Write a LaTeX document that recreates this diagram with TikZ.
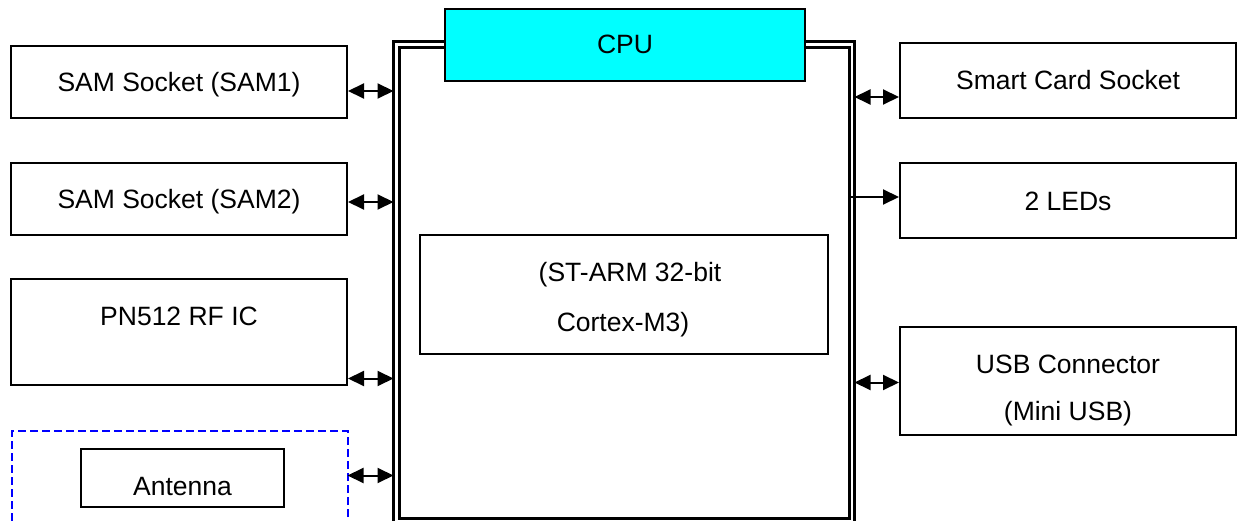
\documentclass[tikz,border=0pt]{standalone}
\usepackage{fontspec}
\setmainfont{Liberation Sans}
\usetikzlibrary{arrows.meta}
\definecolor{cpucyan}{RGB}{0,255,255}
\definecolor{dashblue}{RGB}{0,0,255}
\begin{document}
\begin{tikzpicture}[x=1pt,y=-1pt,
  box/.style={draw=black,line width=2pt,fill=white,inner sep=0pt},
  frameline/.style={draw=black,line width=2.8pt,inner sep=0pt,outer sep=0pt},
  tip/.tip={Triangle[length=16pt,width=15pt]},
  dbl/.style={line width=2pt,tip-tip},
  sgl/.style={line width=2pt,-tip},
  txt/.style={font=\fontsize{26.5}{48}\selectfont,inner sep=0pt,anchor=base}]
\useasboundingbox (0,0) rectangle (1237,521);
\begin{scope}
\clip (0,0) rectangle (1237,521);
% CPU double frame
\node[frameline,minimum width=461pt,minimum height=520pt,anchor=north west] (outer) at (393.5,41.5) {};
\node[frameline,minimum width=450pt,minimum height=471pt,anchor=north west] (inner) at (399.5,47.5) {};
% CPU header
\node[box,fill=cpucyan,minimum width=360pt,minimum height=72pt] (cpu) at (625,45) {};
\node[txt] (cputxt) at (625,54) {CPU};
\node[box,minimum width=408pt,minimum height=119pt] (core) at (624,294.5) {};
\node[txt] (coretxt1) at (630,282) {(ST-ARM 32-bit};
\node[txt] (coretxt2) at (623,331) {Cortex-M3)};
% left column
\node[box,minimum width=336pt,minimum height=72pt] (sam1) at (179,82) {};
\node[txt] (sam1txt) at (179,92) {SAM Socket (SAM1)};
\node[box,minimum width=336pt,minimum height=72pt] (sam2) at (179,199) {};
\node[txt] (sam2txt) at (179,209) {SAM Socket (SAM2)};
\node[box,minimum width=336pt,minimum height=106pt] (pn) at (179,332) {};
\node[txt] (pntxt) at (179,326) {PN512 RF IC};
\node[draw=dashblue,dash pattern=on 8pt off 4pt,line width=2pt,minimum width=336pt,minimum height=110pt,anchor=north west,inner sep=0pt,outer sep=0pt] (antarea) at (11.5,431) {};
\node[box,minimum width=203pt,minimum height=57.5pt] (ant) at (182.5,478) {};
\node[txt] (anttxt) at (182.5,495) {Antenna};
% right column
\node[box,minimum width=336pt,minimum height=75pt] (smart) at (1068,80.5) {};
\node[txt] (smarttxt) at (1068,90) {Smart Card Socket};
\node[box,minimum width=336pt,minimum height=75pt] (leds) at (1068,200.5) {};
\node[txt] (ledstxt) at (1068,211) {2 LEDs};
\node[box,minimum width=336pt,minimum height=108pt] (usb) at (1068,381) {};
\node[txt] (usbtxt1) at (1068,373) {USB Connector};
\node[txt] (usbtxt2) at (1068,420) {(Mini USB)};
\end{scope}
% connectors
\draw[dbl] (sam1.east |- 0,91) -- (outer.west |- 0,91);
\draw[dbl] (sam2.east |- 0,202) -- (outer.west |- 0,202);
\draw[dbl] (pn.east |- 0,378.5) -- (outer.west |- 0,378.5);
\draw[dbl] (antarea.east |- 0,475.5) -- (outer.west |- 0,475.5);
\draw[dbl] (outer.east |- 0,97) -- (smart.west |- 0,97);
\draw[sgl] (inner.east |- 0,197) -- (leds.west |- 0,197);
\draw[dbl] (outer.east |- 0,382.5) -- (usb.west |- 0,382.5);
\end{tikzpicture}
\end{document}
